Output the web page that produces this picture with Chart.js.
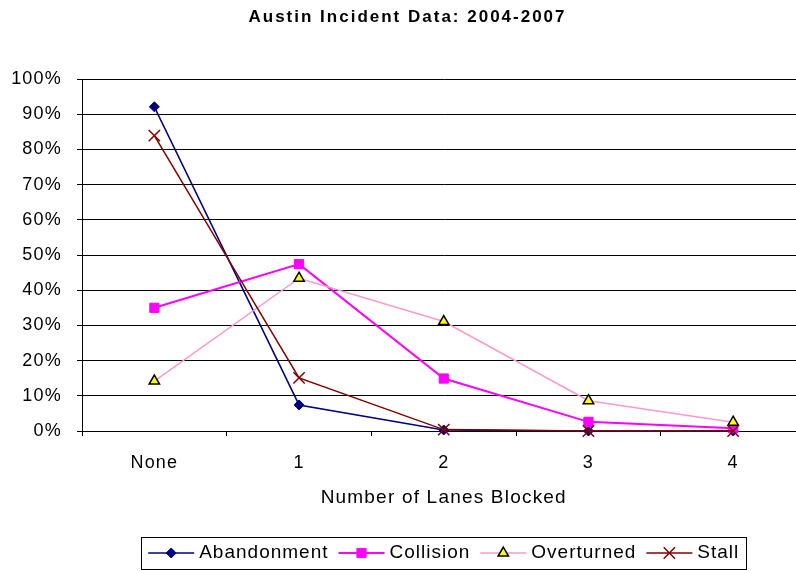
<!DOCTYPE html>
<html>
<head>
<meta charset="utf-8">
<script src="https://cdn.jsdelivr.net/npm/chart.js@4"></script>
<style>
    html, body { margin: 0; padding: 0; background: #fff; overflow: hidden; }
    #wrap { width: 796px; height: 571px; overflow: hidden; }
</style>
</head>
<body>
<div id="wrap"><canvas id="incidentChart" width="815" height="571"></canvas></div>
<script>
const chartTitle = 'Austin Incident Data: 2004-2007';
const xTitle = 'Number of Lanes Blocked';
const categories = ['None', '1', '2', '3', '4'];
const yTicks = [0, 10, 20, 30, 40, 50, 60, 70, 80, 90, 100];

const abandonment = [92.1, 7.4, 0.3, 0, 0];
const collision = [35.0, 47.4, 14.9, 2.6, 0.8];
const overturned = [14.2, 43.4, 31.1, 8.6, 2.5];
const stall = [83.9, 15.1, 0.4, 0, 0];

const FONT = '"Liberation Sans", Arial, sans-serif';
const SPACING = '1.2px';

Chart.defaults.font.family = FONT;
Chart.defaults.color = '#000';

// excel-ish wide text
const textSpacing = {
    id: 'textSpacing',
    beforeLayout(chart) { chart.ctx.letterSpacing = SPACING; },
    beforeDraw(chart) { chart.ctx.letterSpacing = SPACING; },
};

const excelTitle = {
    id: 'excelTitle',
    afterDraw(chart) {
        const ctx = chart.ctx;
        ctx.save();
        ctx.letterSpacing = '2px';
        ctx.font = `bold 17px ${FONT}`;
        ctx.fillStyle = '#000';
        ctx.textAlign = 'center';
        ctx.textBaseline = 'middle';
        ctx.fillText(chartTitle, chart.width / 2, 17);
        ctx.restore();
    },
};

const lineLegend = {
    id: 'lineLegend',
    afterDraw(chart) {
        const ctx = chart.ctx;
        const area = chart.chartArea;
        ctx.save();
        ctx.font = `19px ${FONT}`;
        ctx.letterSpacing = '1px';
        const seg = 46, gap = 5, itemGap = 10, pad = 7;
        const items = chart.data.datasets.map(ds => ({ ds, w: ctx.measureText(ds.label).width }));
        const total = items.reduce((s, it) => s + seg + gap + it.w, 0) + itemGap * (items.length - 1);
        let x = (area.left + area.right) / 2 - total / 2;
        const top = 537, h = 32, cy = top + h / 2;

        ctx.strokeStyle = '#000';
        ctx.lineWidth = 1;
        ctx.strokeRect(Math.round(x - pad) + 0.5, top + 0.5, Math.round(total + 2 * pad), h);

        for (const { ds, w } of items) {
            ctx.strokeStyle = ds.borderColor;
            ctx.lineWidth = ds.borderWidth;
            ctx.beginPath();
            ctx.moveTo(x, cy);
            ctx.lineTo(x + seg, cy);
            ctx.stroke();

            ctx.fillStyle = ds.pointBackgroundColor;
            ctx.strokeStyle = ds.pointBorderColor;
            ctx.lineWidth = ds.pointBorderWidth;
            Chart.helpers.drawPoint(ctx, {
                pointStyle: ds.pointStyle,
                radius: ds.pointRadius,
                borderWidth: ds.pointBorderWidth,
                rotation: 0,
            }, x + seg / 2, cy);

            ctx.fillStyle = '#000';
            ctx.textAlign = 'left';
            ctx.textBaseline = 'middle';
            ctx.fillText(ds.label, x + seg + gap, cy);
            x += seg + gap + w + itemGap;
        }
        ctx.restore();
    },
};

new Chart(document.getElementById('incidentChart'), {
    type: 'line',
    data: {
        labels: categories,
        datasets: [
            {
                label: 'Abandonment',
                data: abandonment,
                borderColor: '#000080',
                borderWidth: 1.5,
                pointStyle: 'rectRot',
                pointRadius: 5,
                pointBackgroundColor: '#000080',
                pointBorderColor: '#000080',
                pointBorderWidth: 1,
                order: 3,
            },
            {
                label: 'Collision',
                data: collision,
                borderColor: '#FF00FF',
                borderWidth: 2,
                pointStyle: 'rect',
                pointRadius: 6.5,
                pointBackgroundColor: '#FF00FF',
                pointBorderColor: '#FF00FF',
                pointBorderWidth: 1,
                order: 2,
            },
            {
                label: 'Overturned',
                data: overturned,
                borderColor: '#FF99CC',
                borderWidth: 1.5,
                pointStyle: 'triangle',
                pointRadius: 6,
                pointBackgroundColor: '#FFFF00',
                pointBorderColor: '#000000',
                pointBorderWidth: 1.5,
                order: 1,
            },
            {
                label: 'Stall',
                data: stall,
                borderColor: '#800000',
                borderWidth: 1.5,
                pointStyle: 'crossRot',
                pointRadius: 8,
                pointBackgroundColor: '#800000',
                pointBorderColor: '#800000',
                pointBorderWidth: 1.5,
                order: 0,
            },
        ],
    },
    options: {
        responsive: false,
        animation: false,
        events: [],
        clip: false,
        layout: { padding: { top: 79, left: 0, right: 8, bottom: 60 } },
        elements: { line: { tension: 0 } },
        plugins: {
            legend: { display: false },
            title: { display: false },
            tooltip: { enabled: false },
        },
        scales: {
            x: {
                offset: true,
                afterFit: s => { s.height = 80; },
                grid: { offset: true, drawOnChartArea: false, drawTicks: true, tickLength: 5, color: '#000' },
                border: { display: true, color: '#000', width: 1 },
                ticks: { font: { size: 18 }, padding: 16, color: '#000' },
                title: { display: true, text: xTitle, font: { size: 19 }, color: '#000', padding: { top: 0, bottom: 2 } },
            },
            y: {
                min: 0,
                max: 100,
                afterFit: s => { s.width = 82; },
                afterBuildTicks: s => { s.ticks = yTicks.map(v => ({ value: v })); },
                grid: { color: '#000', lineWidth: 1, tickLength: 5, drawTicks: true },
                border: { display: true, color: '#000', width: 1 },
                ticks: { font: { size: 18 }, padding: 15, color: '#000', callback: v => v + '%' },
            },
        },
    },
    plugins: [textSpacing, excelTitle, lineLegend],
});
</script>
</body>
</html>
